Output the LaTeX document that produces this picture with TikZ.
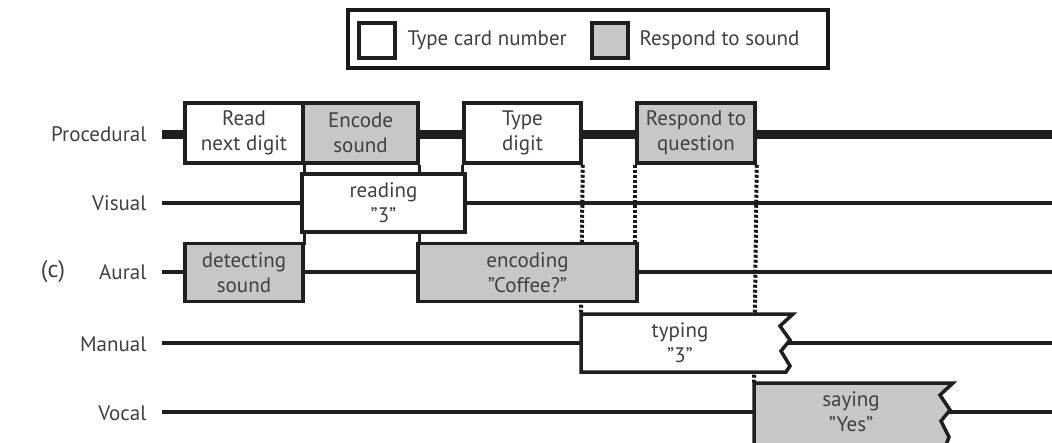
\documentclass[tikz,border=0pt]{standalone}
\usepackage{fontspec}
\setmainfont{PT Sans}
\begin{document}
\begin{tikzpicture}[x=1pt,y=-1pt,
  every node/.style={font=\fontsize{21}{25}\selectfont, text=black!75},
  lane/.style={line width=3.5pt, draw=black!88},
  proclane/.style={line width=9pt, draw=black!88},
  wbox/.style={draw=black!88, line width=3.5pt, fill=white, align=center, inner sep=0pt},
  gbox/.style={wbox, fill=black!22},
  zzw/.style={draw=black!88, line width=3.5pt, fill=white, line join=miter},
  zzg/.style={zzw, fill=black!22},
  link/.style={line width=3pt, draw=black!88},
  dotlink/.style={line width=4pt, draw=black!90, dash pattern=on 3pt off 2pt},
  lbl/.style={anchor=east},
  legsq/.style={draw=black!88, line width=4pt, minimum width=36pt, minimum height=35pt, inner sep=0pt}
]
\useasboundingbox (0,0) rectangle (1052,442);

% legend
\node[draw=black!90, line width=4.5pt, minimum width=480pt, minimum height=58pt, inner sep=0pt] (legend) at (588,39) {};
\node[legsq, fill=white] (wsq) at (377,40.5) {};
\node[anchor=west] (wtxt) at (404,40) {Type card number};
\node[legsq, fill=black!22] (gsq) at (609.5,40.5) {};
\node[anchor=west] (gtxt) at (636,40) {Respond to sound};

% row labels
\node[lbl] (lproc) at (150,134) {Procedural};
\node[lbl] (lvis) at (150,203) {Visual};
\node[lbl] (laur) at (150,272) {Aural};
\node[lbl] (lman) at (150,344) {Manual};
\node[lbl] (lvoc) at (150,413) {Vocal};
\node[font=\fontsize{24}{26}\selectfont] (lc) at (53,272) {(c)};

% lanes
\coordinate (ps) at (162,134); \coordinate (pe) at (1052,134);
\coordinate (vs) at (162,203); \coordinate (ve) at (1052,203);
\coordinate (as) at (162,272); \coordinate (ae) at (1052,272);
\coordinate (ms) at (162,343); \coordinate (me) at (1052,343);
\coordinate (os) at (162,412); \coordinate (oe) at (1052,412);
\draw[proclane] (ps) -- (pe);
\draw[lane] (vs) -- (ve);
\draw[lane] (as) -- (ae);
\draw[lane] (ms) -- (me);
\draw[lane] (os) -- (oe);

% zigzag box corners
\coordinate (typTL) at (581,314);
\coordinate (sayTL) at (754,383);

% box centres
\coordinate (cread) at (244,133);
\coordinate (cenc) at (360.5,133);
\coordinate (ctype) at (522.5,133);
\coordinate (cresp) at (696,133);
\coordinate (creading) at (383.5,203);
\coordinate (cdet) at (244,272.5);
\coordinate (cencod) at (527.5,272.5);

\node[wbox, minimum width=118pt, minimum height=60pt] (read) at (cread) {Read\\next digit};
\node[gbox, minimum width=115pt, minimum height=60pt] (encode) at (cenc) {Encode\\sound};
\node[wbox, minimum width=117pt, minimum height=60pt] (type) at (ctype) {Type\\digit};
\node[gbox, minimum width=118pt, minimum height=60pt] (respond) at (cresp) {Respond to\\question};

% connectors
\draw[link] (read.south east) -- ++(0,80);
\draw[link] (encode.south east) -- ++(0,80);
\draw[link] (type.south west) -- ++(0,11);
\draw[dotlink] (type.south east) -- (typTL);
\draw[dotlink] (respond.south west) -- ++(0,80);
\draw[dotlink] (respond.south east) -- (sayTL);

\node[wbox, minimum width=163pt, minimum height=58pt] (reading) at (creading) {reading\\"3"};
\node[gbox, minimum width=118pt, minimum height=58pt] (detecting) at (cdet) {detecting\\sound};
\node[gbox, minimum width=219pt, minimum height=58pt] (encoding) at (cencod) {encoding\\"Coffee?"};

\filldraw[zzw] (581,372) -- (typTL) -- (793,314) -- (780,326) -- (790,340) -- (781,351) -- (790,366) -- (786,372) -- cycle;
\node[align=center] (typing) at (680,343) {typing\\"3"};
\filldraw[zzg] (754,445) -- (sayTL) -- (953,383) -- (940,395) -- (950,410) -- (941,421) -- (949,437) -- (946,445) -- cycle;
\node[align=center] (saying) at (851,412) {saying\\"Yes"};
\end{tikzpicture}
\end{document}
